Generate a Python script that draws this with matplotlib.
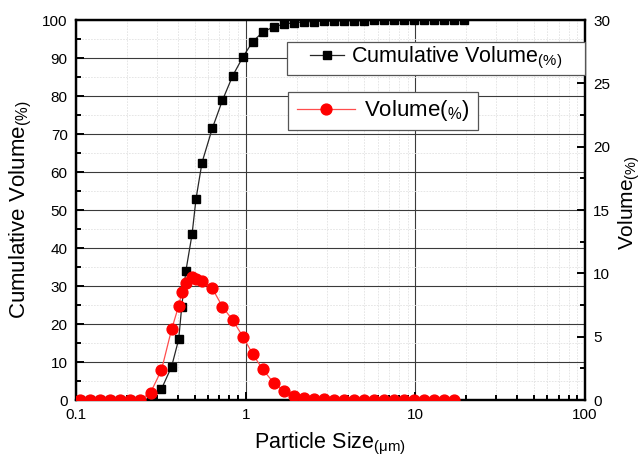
import numpy as np
import matplotlib
matplotlib.use("Agg")
import matplotlib.pyplot as plt
from matplotlib.ticker import MultipleLocator, LogLocator, NullFormatter
from matplotlib.patches import Rectangle
from matplotlib.lines import Line2D

plt.rcParams['font.family'] = ['Liberation Sans', 'DejaVu Sans']
plt.rcParams['mathtext.fontset'] = 'custom'
plt.rcParams['mathtext.rm'] = 'Liberation Sans'

# particle size bins (um)
size = [0.106, 0.121, 0.139, 0.159, 0.182, 0.208, 0.238, 0.275, 0.319, 0.366,
        0.403, 0.420, 0.444, 0.483, 0.510, 0.553, 0.636, 0.730, 0.838, 0.964,
        1.10, 1.26, 1.46, 1.68, 1.92, 2.20, 2.52, 2.88, 3.30, 3.78,
        4.33, 4.96, 5.68, 6.51, 7.45, 8.53, 9.77, 11.2, 12.8, 14.7,
        16.8, 19.3]

cum_vol = [0, 0, 0, 0, 0, 0, 0, 0.3, 2.9, 8.8,
           16.0, 24.6, 33.9, 43.6, 53.0, 62.5, 71.5, 78.9, 85.3, 90.3,
           94.3, 96.8, 98.2, 98.9, 99.3, 99.5, 99.6, 99.7, 99.7, 99.8,
           99.8, 99.8, 99.9, 99.9, 99.9, 99.9, 100, 100, 100, 100,
           100, 100]

vol = [0, 0, 0, 0, 0, 0, 0, 0.58, 2.37, 5.58,
       7.44, 8.5, 9.21, 9.68, 9.55, 9.42, 8.81, 7.36, 6.31, 5.0,
       3.63, 2.42, 1.37, 0.73, 0.34, 0.18, 0.1, 0.06, 0.04, 0.03,
       0.02, 0.02, 0.01, 0.01, 0.01, 0.01, 0.01, 0, 0, 0,
       0]

fig = plt.figure(figsize=(6.43, 4.57), dpi=100)
ax = fig.add_axes([0.1182, 0.1247, 0.7916, 0.8315])
ax2 = ax.twinx()

ax.plot(size, cum_vol, color='#262626', lw=0.9, marker='s', ms=6.2,
        mfc='black', mec='black', zorder=3)
ax2.plot(size[:len(vol)], vol, color='#ff4d4d', lw=0.9, marker='o', ms=7.8,
         mfc='#ff0000', mec='#ff0000', zorder=3)

ax.set_xscale('log')
ax.set_xlim(0.1, 100)
ax.set_ylim(0, 100)
ax2.set_ylim(0, 30)

ax.set_xticks([0.1, 1, 10, 100])
ax.set_xticklabels(['0.1', '1', '10', '100'])
ax.xaxis.set_minor_locator(LogLocator(base=10, subs=np.arange(2, 10)))
ax.xaxis.set_minor_formatter(NullFormatter())
ax.yaxis.set_major_locator(MultipleLocator(10))
ax.yaxis.set_minor_locator(MultipleLocator(5))
ax2.yaxis.set_major_locator(MultipleLocator(5))
ax2.yaxis.set_minor_locator(MultipleLocator(2.5))

ax.grid(which='major', color='#3a3a3a', lw=0.8)
ax.grid(which='minor', color='#e2e2e2', lw=0.6, ls=(0, (2, 1.5)))
ax.set_axisbelow(True)

ax.tick_params(which='both', direction='in', top=False, right=False,
               labelsize=11, width=1.4)
ax.tick_params(which='major', length=6, pad=6)
ax.tick_params(which='minor', length=3.5)
ax2.tick_params(which='both', direction='in', labelsize=11, width=1.4)
ax2.tick_params(which='major', length=6, pad=6)
ax2.tick_params(which='minor', length=3.5)

for a in (ax, ax2):
    for s in a.spines.values():
        s.set_linewidth(1.6)

ax.set_xlabel(r'Particle Size$\mathregular{_{(\mu m)}}$', fontsize=15.5)
ax.set_ylabel(r'Cumulative Volume$\mathregular{_{(\%)}}$', fontsize=16)
ax2.set_ylabel(r'Volume$\mathregular{_{(\%)}}$', fontsize=15)
ax.xaxis.set_label_coords(0.5, -0.082)
ax.yaxis.set_label_coords(-0.083, 0.5)
ax2.yaxis.set_label_coords(1.062, 0.52)

# legend boxes (two separate frames)
ax2.add_patch(Rectangle((0.4145, 0.855), 0.5855, 0.0877, transform=ax2.transAxes,
                        fc='white', ec='#555555', lw=0.9, zorder=5, clip_on=False))
ax2.add_patch(Rectangle((0.4165, 0.711), 0.373, 0.1008, transform=ax2.transAxes,
                        fc='white', ec='#555555', lw=0.9, zorder=5))

h1 = Line2D([], [], color='#262626', lw=0.9, marker='s', ms=6.2, mfc='black', mec='black')
h2 = Line2D([], [], color='#ff4d4d', lw=0.9, marker='o', ms=7.8, mfc='#ff0000', mec='#ff0000')
leg1 = ax2.legend([h1], [r'Cumulative Volume$\mathregular{_{(\%)}}$'], loc='center',
                  bbox_to_anchor=(0.7073, 0.899), frameon=False, fontsize=15.5,
                  handlelength=1.6, handletextpad=0.3, borderpad=0, borderaxespad=0)
leg1.set_zorder(6)
ax2.add_artist(leg1)
leg2 = ax2.legend([h2], [r'Volume($\mathregular{_{\%}}$)'], loc='center',
                  bbox_to_anchor=(0.603, 0.761), frameon=False, fontsize=16,
                  handlelength=2.6, handletextpad=0.4, borderpad=0, borderaxespad=0)
leg2.set_zorder(6)

fig.savefig('out.png', dpi=100)
